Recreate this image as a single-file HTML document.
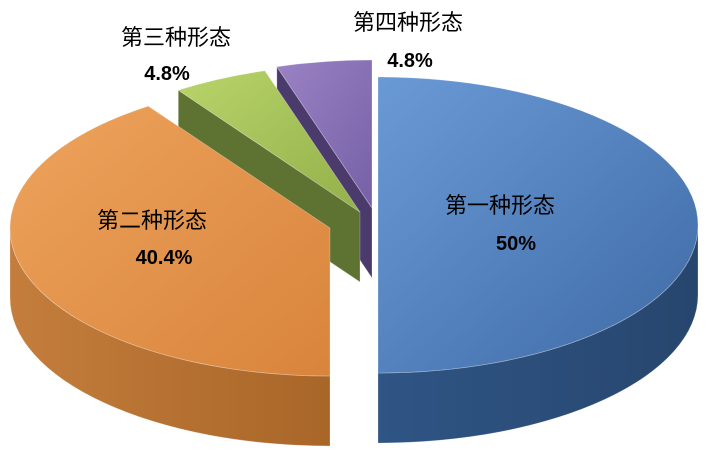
<!DOCTYPE html>
<html><head><meta charset="utf-8"><style>
html,body{margin:0;padding:0;background:#fff;}
svg{display:block;}
text{font-family:"Liberation Sans","Noto Sans CJK SC",sans-serif;fill:#000;}
</style></head><body>
<svg id="s" width="709" height="467" viewBox="0 0 709 467" xmlns="http://www.w3.org/2000/svg">
<defs>
<linearGradient id="gb" x1="0" y1="0" x2="1" y2="1"><stop offset="0" stop-color="#6a9ad6"/><stop offset="1" stop-color="#3e6aa5"/></linearGradient>
<linearGradient id="go" x1="0" y1="0" x2="1" y2="1"><stop offset="0" stop-color="#eda35c"/><stop offset="1" stop-color="#d9843c"/></linearGradient>
<linearGradient id="gg" x1="0" y1="0" x2="1" y2="1"><stop offset="0" stop-color="#b8d46a"/><stop offset="1" stop-color="#93b04a"/></linearGradient>
<linearGradient id="gp" x1="0" y1="0" x2="1" y2="1"><stop offset="0" stop-color="#9a82c4"/><stop offset="1" stop-color="#7660a6"/></linearGradient>
<linearGradient id="sb" x1="0" y1="0" x2="1" y2="0"><stop offset="0" stop-color="#2f5585"/><stop offset="1" stop-color="#27466e"/></linearGradient>
<linearGradient id="so" x1="0" y1="0" x2="1" y2="0"><stop offset="0" stop-color="#c47d3c"/><stop offset="1" stop-color="#a86628"/></linearGradient>
</defs>
<g id="g"></g>
<text x="500" y="213" font-size="22" text-anchor="middle">第一种形态</text>
<text x="516" y="250" font-size="20" font-weight="bold" text-anchor="middle">50%</text>
<text x="152" y="228" font-size="22" text-anchor="middle">第二种形态</text>
<text x="164" y="264" font-size="20" font-weight="bold" text-anchor="middle">40.4%</text>
<text x="176" y="45" font-size="22" text-anchor="middle">第三种形态</text>
<text x="167" y="80" font-size="20" font-weight="bold" text-anchor="middle">4.8%</text>
<text x="408" y="30" font-size="22" text-anchor="middle">第四种形态</text>
<text x="410" y="67" font-size="20" font-weight="bold" text-anchor="middle">4.8%</text>
</svg>
<script>
var RX=320,RY=148,D=70,g=document.getElementById('g');
function P(c,a){var r=a*Math.PI/180;return [c[0]+RX*Math.cos(r),c[1]+RY*Math.sin(r)];}
function add(d,f){var p=document.createElementNS('http://www.w3.org/2000/svg','path');p.setAttribute('d',d);p.setAttribute('fill',f);p.setAttribute('stroke','rgba(255,255,255,0.3)');p.setAttribute('stroke-width','0.8');g.appendChild(p);}
function slice(c,a0,a1,top,side,cut){
 if(cut){var e=P(c,cut.a);add('M'+c[0]+','+c[1]+'L'+e[0]+','+e[1]+'L'+e[0]+','+(e[1]+D)+'L'+c[0]+','+(c[1]+D)+'Z',cut.f);}
 var s0=Math.max(a0,0),s1=Math.min(a1,180);
 if(s1>s0){var p0=P(c,s0),p1=P(c,s1);
  add('M'+p0[0]+','+p0[1]+'A'+RX+','+RY+' 0 0 1 '+p1[0]+','+p1[1]+'L'+p1[0]+','+(p1[1]+D)+'A'+RX+','+RY+' 0 0 0 '+p0[0]+','+(p0[1]+D)+'Z',side);}
 var q0=P(c,a0),q1=P(c,a1),lg=(a1-a0)>180?1:0;
 add('M'+c[0]+','+c[1]+'L'+q0[0]+','+q0[1]+'A'+RX+','+RY+' 0 '+lg+' 1 '+q1[0]+','+q1[1]+'Z',top);
}
slice([372,208],252.7,270,'url(#gp)','#4a3a6a',{a:252.7,f:'#4b3b6c'});
slice([360,212],235.4,252.7,'url(#gg)','#5d7030',{a:235.4,f:'#5e7232'});
slice([330,228],90,235.4,'url(#go)','url(#so)',null);
slice([378,225],-90,90,'url(#gb)','url(#sb)',null);
</script>
</body></html>
